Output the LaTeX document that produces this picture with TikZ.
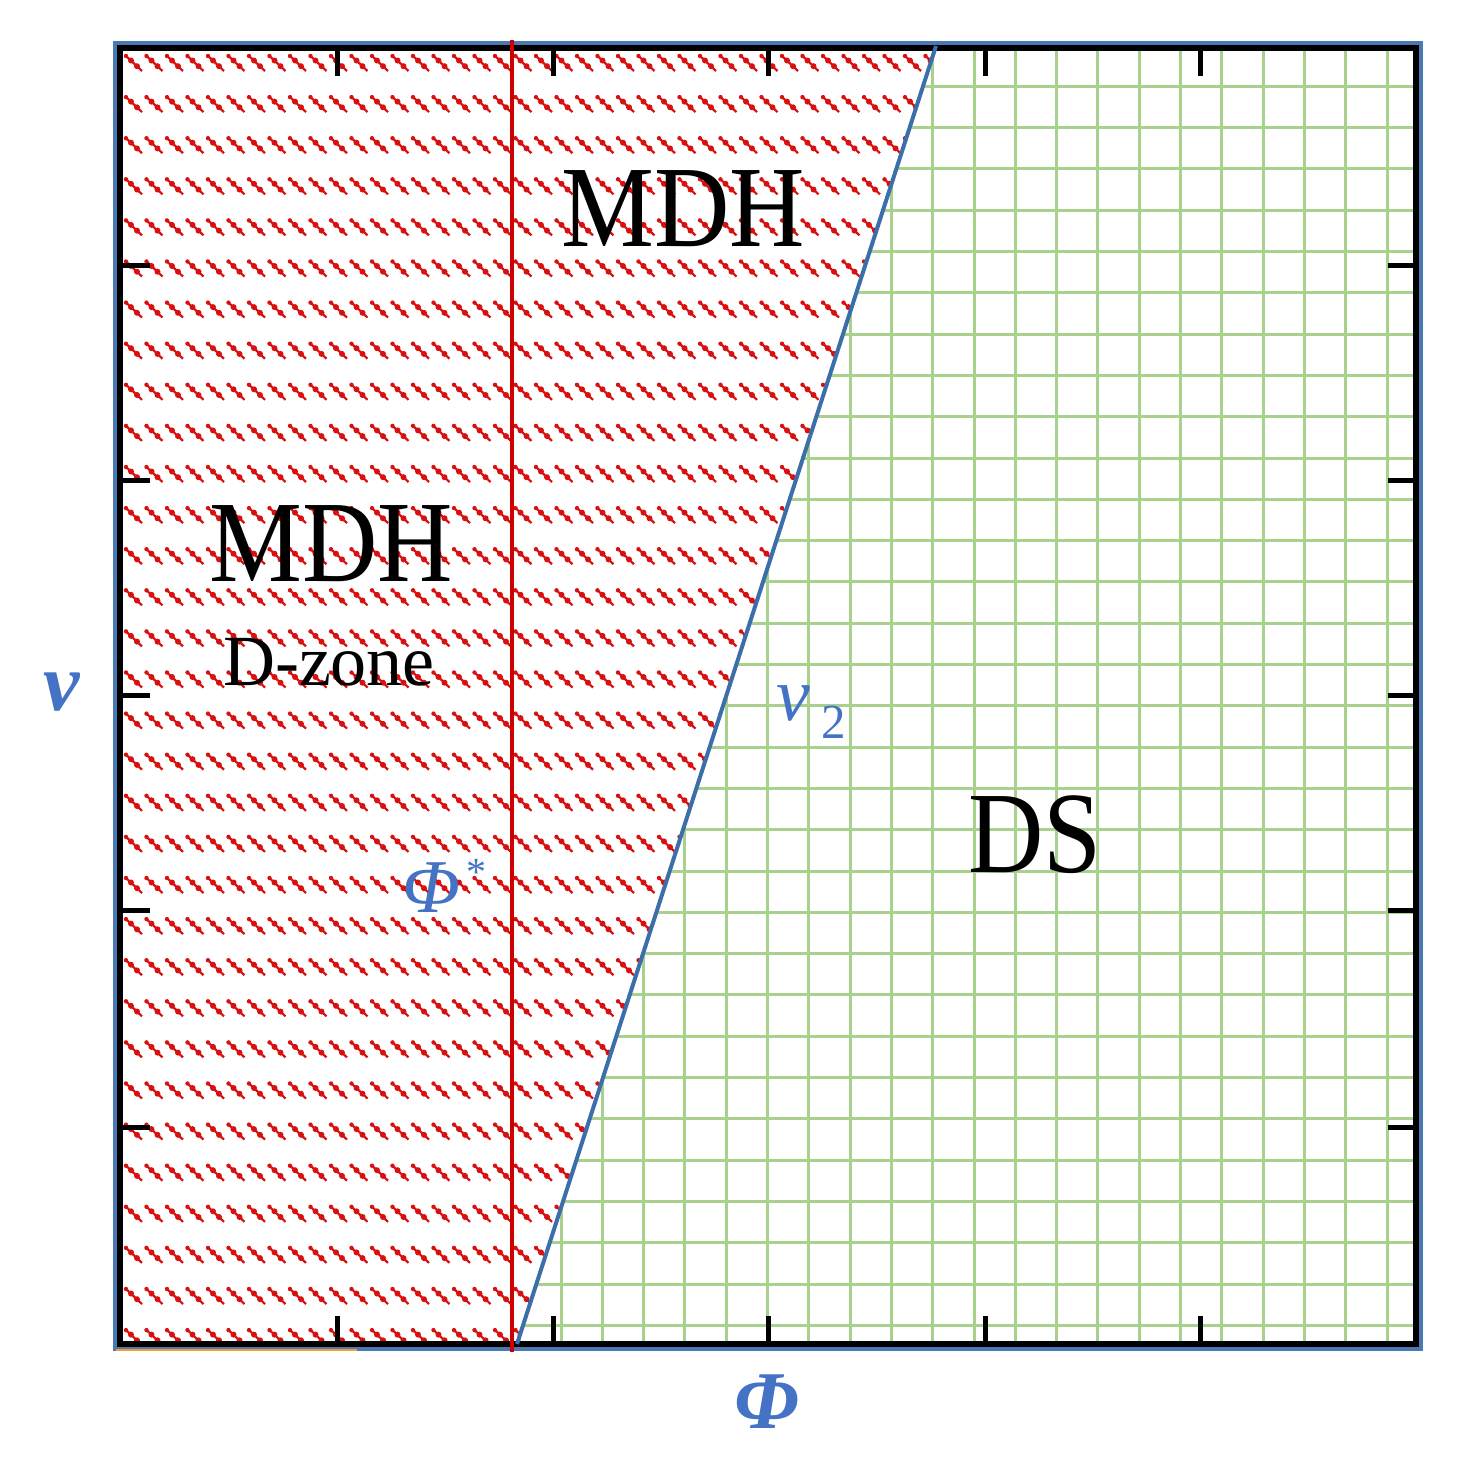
\documentclass[tikz,border=0pt]{standalone}
\usepackage{fontspec}
\setmainfont{Liberation Serif}
\newfontfamily\narrowserif[FakeStretch=0.9]{Liberation Serif}
\definecolor{hatchred}{HTML}{D81010}
\definecolor{linered}{HTML}{CC0000}
\definecolor{gridgreen}{HTML}{A9D18E}
\definecolor{diagblue}{HTML}{3C6EAA}
\definecolor{labelblue}{HTML}{4472C4}
\definecolor{frameblue}{HTML}{4A78B0}
\definecolor{orangeline}{HTML}{F0A030}
\begin{document}
\begin{tikzpicture}[x=1pt,y=-1pt,
  bigtext/.style={inner sep=0pt, text=black, font=\narrowserif\fontsize{116}{116}\selectfont},
  smalltext/.style={inner sep=0pt, text=black, font=\fontsize{72}{72}\selectfont},
  axislbl/.style={inner sep=0pt, text=labelblue, font=\bfseries\itshape\fontsize{82}{82}\selectfont},
  curvelbl/.style={inner sep=0pt, text=labelblue, font=\itshape\fontsize{76}{76}\selectfont},
  ticklines/.style={black, line width=5},
  gridline/.style={gridgreen, line width=3},
  hatchline/.style={hatchred, line width=2.2}]
\useasboundingbox (0,0) rectangle (1472,1468);
% red hatching (MDH region)
\begin{scope}
  \clip (120,48) -- (935,48) -- (517,1344) -- (120,1344) -- cycle;
  \foreach \j in {0,...,31}{
    \foreach \i in {0,...,40}{
      \pgfmathsetmacro\xx{125+20.5*\i}
      \pgfmathsetmacro\yy{63+41.1*\j}
      \draw[hatchline] (\xx,\yy-8) -- ++(17,16);
      \fill[hatchred] (\xx+1,\yy-7) circle (2.2) (\xx+6,\yy-2.5) circle (3) (\xx+12,\yy+3.2) circle (3);
    }
  }
\end{scope}
% green grid (DS region)
\begin{scope}
  \clip (935,48) -- (1416,48) -- (1416,1344) -- (517,1344) -- cycle;
  \foreach \k in {0,...,22} \draw[gridline] (1387-41.3*\k,48) -- (1387-41.3*\k,1344);
  \foreach \k in {0,...,30} \draw[gridline] (120,86.3+41.3*\k) -- (1416,86.3+41.3*\k);
\end{scope}
% frame
\draw[frameblue, line width=4] (115,43) rectangle (1421,1349);
\draw[orangeline, line width=2.5] (116,1350) -- (357,1350);
\draw[black, line width=6] (120,48) rectangle (1416,1344);
% ticks
\foreach \x in {337,553,768,985,1200}{
  \draw[ticklines] (\x,48) -- (\x,76);
  \draw[ticklines] (\x,1344) -- (\x,1316);
}
\foreach \y in {265,480,695,910,1127}{
  \draw[ticklines] (120,\y) -- (150,\y);
  \draw[ticklines] (1416,\y) -- (1388,\y);
}
% boundaries
\draw[linered, line width=4] (512,40) -- (512,1352);
\draw[diagblue, line width=4] (517,1344) -- (936,46);
% labels
\node[bigtext] (mdhtop) at (683,209) {MDH};
\node[bigtext] (mdhleft) at (331,544) {MDH};
\node[smalltext] (dzone) at (329,662) {D-zone};
\node[bigtext] (ds) at (1035,835) {DS};
\node[axislbl, anchor=base] (vaxis) at (62,710) {v};
\node[axislbl, anchor=base] (phiaxis) at (767,1428) {Φ};
\node[curvelbl, anchor=base] (vtwo) at (793,720) {v};
\node[inner sep=0pt, text=labelblue, font=\fontsize{49}{49}\selectfont, anchor=base] (vtwosub) at (834,738) {2};
\node[curvelbl, anchor=base] (phistar) at (431,912) {Φ};
\node[inner sep=0pt, text=labelblue, font=\fontsize{40}{40}\selectfont] (star) at (476,872) {*};
\end{tikzpicture}
\end{document}
